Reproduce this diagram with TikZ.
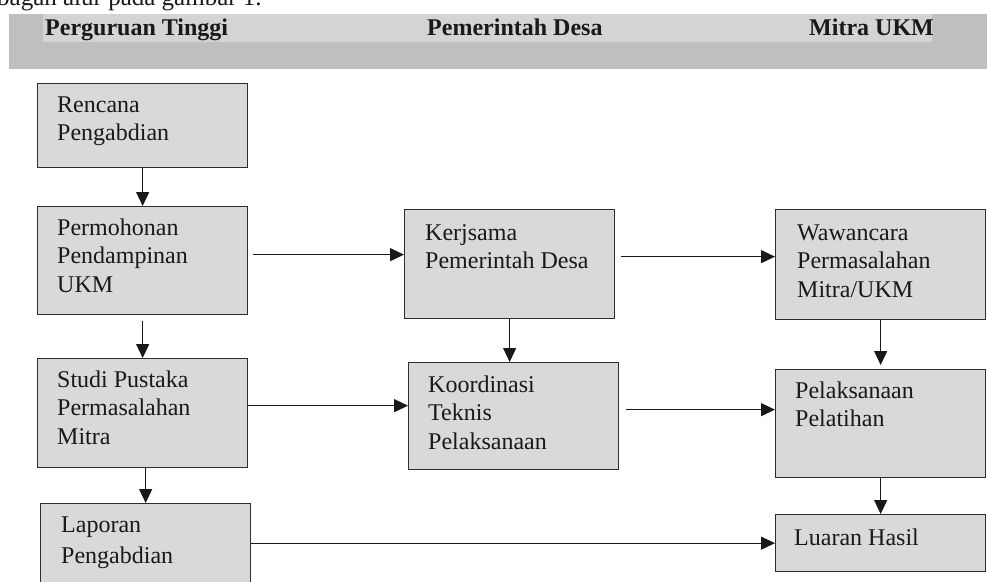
\documentclass[tikz,border=0pt]{standalone}
\usepackage{fontspec}
\setmainfont{Liberation Serif}
\usetikzlibrary{arrows.meta,calc}
\definecolor{bandgray}{RGB}{191,191,191}
\definecolor{stripgray}{RGB}{212,212,212}
\definecolor{boxgray}{RGB}{217,217,217}
\definecolor{edgegray}{RGB}{45,45,45}
\definecolor{inkcol}{RGB}{25,25,25}
\tikzset{
  boxst/.style={draw=edgegray, line width=1.3pt, fill=boxgray, rectangle, inner sep=0pt, anchor=north west},
  lbl/.style={anchor=north west, align=left, inner sep=0pt, text=inkcol, font=\fontsize{24}{28.5}\selectfont},
  hdr/.style={anchor=base west, inner sep=0pt, text=inkcol, font=\fontsize{24}{28}\selectfont\bfseries},
  arr/.style={draw=inkcol, line width=1.2pt, -{Triangle[length=14pt,width=13pt]}}
}
\begin{document}
\begin{tikzpicture}[x=1pt,y=-1pt]
\useasboundingbox (0,0) rectangle (987,581);
\clip (0,0) rectangle (987,581);
% cut-off line of text at the top
\node[anchor=base west, inner sep=0pt, text=inkcol, font=\fontsize{25}{28}\selectfont] (toptext) at (-3,5) {bagan alur pada gambar 1.};
% header band
\fill[bandgray] (9,14) rectangle (987,69);
\fill[stripgray] (43,14) rectangle (932,42);
\node[hdr] (h1) at (45,35) {Perguruan Tinggi};
\node[hdr] (h2) at (427,35) {Pemerintah Desa};
\node[hdr] (h3) at (809,35) {Mitra UKM};
% boxes
\node[boxst, minimum width=210pt, minimum height=84pt]  (rencana)  at (37,83) {};
\node[boxst, minimum width=210pt, minimum height=108pt] (permohon) at (37,206) {};
\node[boxst, minimum width=210pt, minimum height=109pt] (studi)    at (37,358) {};
\node[boxst, minimum width=210pt, minimum height=100pt] (laporan)  at (40,503) {};
\node[boxst, minimum width=210pt, minimum height=109pt] (kerja)    at (404,209) {};
\node[boxst, minimum width=210pt, minimum height=107pt] (koord)    at (408,362) {};
\node[boxst, minimum width=210pt, minimum height=110pt] (wawan)    at (775,209) {};
\node[boxst, minimum width=210pt, minimum height=108pt] (pelak)    at (775,369) {};
\node[boxst, minimum width=210pt, minimum height=57pt]  (luaran)   at (775,514) {};
% labels
\node[lbl] (t1) at (57,92)  {\strut Rencana\\Pengabdian};
\node[lbl] (t2) at (57,215) {\strut Permohonan\\Pendampinan\\UKM};
\node[lbl] (t3) at (57,367) {\strut Studi Pustaka\\Permasalahan\\Mitra};
\node[lbl, font=\fontsize{24}{31}\selectfont] (t4) at (61,511) {\strut Laporan\\Pengabdian};
\node[lbl] (t5) at (425,220) {\strut Kerjsama\\Pemerintah Desa};
\node[lbl] (t6) at (428,372) {\strut Koordinasi\\Teknis\\Pelaksanaan};
\node[lbl] (t7) at (797,220) {\strut Wawancara\\Permasalahan\\Mitra/UKM};
\node[lbl] (t8) at (795,378) {\strut Pelaksanaan\\Pelatihan};
\node[lbl] (t9) at (794,525) {\strut Luaran Hasil};
% connectors
\draw[arr] (rencana.south) -- (permohon.north);
\draw[arr, shorten <=6pt] (permohon.south) -- (studi.north);
\draw[arr] (studi.south -| laporan.north) -- (laporan.north);
\coordinate (pk) at ($(permohon.east)+(5,-6)$);
\draw[arr] (pk) -- (pk -| kerja.west);
\coordinate (kw) at ($(kerja.east)+(6,-7.5)$);
\draw[arr] (kw) -- (kw -| wawan.west);
\draw[arr] (kerja.south) -- (kerja.south |- koord.north);
\draw[arr, shorten >=4pt] (wawan.south) -- (wawan.south |- pelak.north);
\draw[arr] (pelak.south) -- (luaran.north);
\coordinate (sk) at ($(studi.east)+(0,-7.5)$);
\draw[arr] (sk) -- (sk -| koord.west);
\coordinate (kp) at ($(koord.east)+(7,-6.5)$);
\draw[arr] (kp) -- (kp -| pelak.west);
\draw[arr] (luaran.west -| laporan.east) -- (luaran.west);
\end{tikzpicture}
\end{document}
